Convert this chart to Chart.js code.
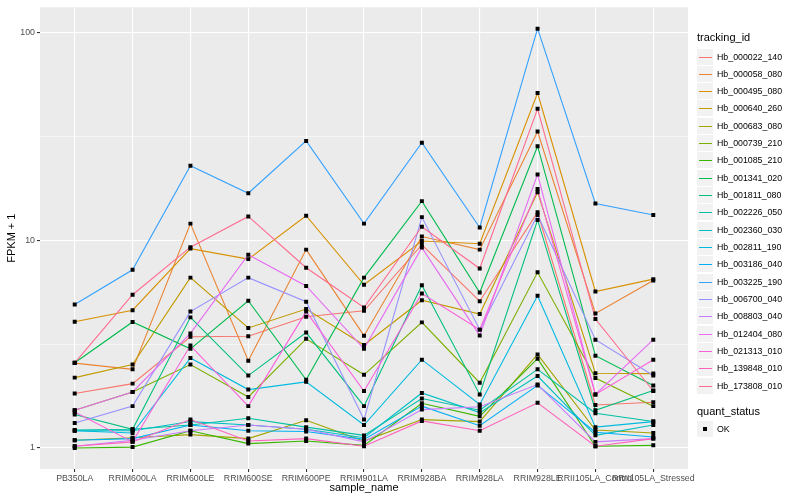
<!DOCTYPE html>
<html>
<head>
<meta charset="utf-8">
<script src="https://cdn.jsdelivr.net/npm/chart.js@4.4.0/dist/chart.umd.min.js"></script>
<style>
  body { margin: 0; background: #fff; font-family: "Liberation Sans", Arial, sans-serif; }
  #wrap { position: relative; width: 800px; height: 500px; }
  #legend { position: absolute; left: 697px; top: 0; }
  .lg-title { position: absolute; left: 0; font-size: 11px; color: #000; white-space: nowrap; }
  .lg-row { position: absolute; left: 0; height: 17px; white-space: nowrap; }
  .lg-key { position: absolute; left: 0; top: 0; width: 16px; height: 16px; background: #F2F2F2; }
  .lg-line { position: absolute; left: 2px; top: 8px; width: 13px; height: 1px; }
  .lg-dot { position: absolute; left: 6px; top: 6px; width: 4px; height: 4px; background: #000; }
  .lg-text { position: absolute; left: 20px; top: 0; line-height: 16px; font-size: 8.8px; color: #000; }
</style>
</head>
<body>
<div id="wrap">
  <canvas id="chart" width="800" height="500"></canvas>
  <div id="legend"></div>
</div>
<script>
// categories on the x axis
const sampleNames = ['PB350LA', 'RRIM600LA', 'RRIM600LE', 'RRIM600SE', 'RRIM600PE', 'RRIM901LA',
  'RRIM928BA', 'RRIM928LA', 'RRIM928LE', 'RRII105LA_Control', 'RRII105LA_Stressed'];

const trackingIds = ['Hb_000022_140', 'Hb_000058_080', 'Hb_000495_080', 'Hb_000640_260', 'Hb_000683_080',
  'Hb_000739_210', 'Hb_001085_210', 'Hb_001341_020', 'Hb_001811_080', 'Hb_002226_050', 'Hb_002360_030',
  'Hb_002811_190', 'Hb_003186_040', 'Hb_003225_190', 'Hb_006700_040', 'Hb_008803_040', 'Hb_012404_080',
  'Hb_021313_010', 'Hb_139848_010', 'Hb_173808_010'];

const seriesColors = ['#F8766D', '#EA8331', '#D89000', '#C09B00', '#A3A500', '#7CAE00', '#39B600',
  '#00BB4E', '#00BF7D', '#00C1A3', '#00BFC4', '#00BAE0', '#00B0F6', '#35A2FF', '#9590FF', '#C77CFF',
  '#E76BF3', '#FA62DB', '#FF62BC', '#FF6C91'];

// FPKM + 1 per gene, one value per sample
const hb000022 = [1.83, 2.04, 3.43, 3.45, 4.28, 4.57, 9.5, 5.08, 13.6, 1.61, 1.66];
const hb000058 = [2.56, 2.39, 12.0, 2.63, 9.0, 3.47, 10.4, 9.0, 33.3, 4.44, 6.4];
const hb000495 = [4.05, 4.6, 9.1, 8.1, 13.1, 6.1, 9.9, 9.6, 51, 5.66, 6.49];
const hb000640 = [2.18, 2.52, 6.6, 3.78, 4.66, 3.13, 5.14, 4.41, 17.0, 2.29, 2.28];
const hb000683 = [1.09, 1.12, 1.16, 1.11, 1.36, 1.08, 1.37, 1.34, 2.82, 1.22, 1.18];
const hb000739 = [1.52, 1.86, 2.52, 1.76, 3.35, 2.25, 4.02, 2.06, 7.0, 2.17, 1.59];
const hb001085 = [1.0, 1.01, 1.21, 1.05, 1.08, 1.03, 1.64, 1.42, 2.69, 1.02, 1.03];
const hb001341 = [2.57, 4.04, 3.0, 5.11, 2.13, 6.6, 15.4, 5.6, 28.3, 2.78, 2.0];
const hb001811 = [1.45, 1.23, 4.25, 2.23, 3.59, 1.59, 6.07, 1.81, 12.5, 1.52, 1.89];
const hb002226 = [1.22, 1.23, 1.29, 1.39, 1.26, 1.15, 1.73, 1.52, 2.39, 1.47, 1.34];
const hb002360 = [1.21, 1.21, 1.34, 1.29, 1.23, 1.12, 1.84, 1.48, 2.22, 1.15, 1.29];
const hb002811 = [1.21, 1.18, 2.71, 1.91, 2.08, 1.29, 2.66, 1.62, 5.4, 1.26, 1.34];
const hb003186 = [1.09, 1.11, 1.29, 1.21, 1.2, 1.1, 1.59, 1.28, 2.0, 1.19, 1.13];
const hb003225 = [4.9, 7.2, 22.8, 16.8, 30, 12.0, 29.4, 11.5, 104, 15.0, 13.2];
const hb006700 = [1.32, 1.59, 4.53, 6.6, 5.05, 1.37, 12.9, 3.71, 13.2, 3.32, 2.23];
const hb008803 = [1.02, 1.09, 1.21, 1.29, 1.23, 1.07, 1.53, 1.58, 2.02, 1.07, 1.11];
const hb012404 = [1.52, 1.86, 3.56, 8.5, 6.02, 3.0, 9.2, 3.48, 20.7, 1.81, 3.32];
const hb021313 = [1.49, 1.07, 3.11, 1.59, 4.53, 1.88, 5.53, 3.71, 17.6, 1.81, 2.66];
const hb139848 = [1.02, 1.07, 1.37, 1.08, 1.11, 1.02, 1.35, 1.21, 1.65, 1.02, 1.11];
const hb173808 = [2.57, 5.46, 9.25, 13.0, 7.36, 4.74, 11.6, 7.3, 42.8, 4.17, 1.88];

const seriesValues = [hb000022, hb000058, hb000495, hb000640, hb000683, hb000739, hb001085, hb001341,
  hb001811, hb002226, hb002360, hb002811, hb003186, hb003225, hb006700, hb008803, hb012404, hb021313,
  hb139848, hb173808];

// log axis: labelled breaks plus the minor breaks ggplot puts between them
const yMajor = [1, 10, 100];
const yMinor = [Math.sqrt(10), Math.sqrt(1000)];

const FONT = '"Liberation Sans", Arial, sans-serif';

// lines, later genes on top
const lineSets = seriesValues.map((vals, i) => ({
  type: 'line',
  label: trackingIds[i],
  data: vals.map((v, k) => ({ x: k, y: v })),
  borderColor: seriesColors[i],
  borderWidth: 1.1,
  pointRadius: 0,
  tension: 0,
  order: 100 - i
}));

// the black points go over every line
const pointSet = {
  type: 'scatter',
  label: 'OK',
  data: seriesValues.flatMap(vals => vals.map((v, k) => ({ x: k, y: v }))),
  pointStyle: 'rect',
  pointRadius: 2.8,
  pointBackgroundColor: '#000',
  pointBorderWidth: 0,
  showLine: false,
  order: 0
};

const isMajor = v => yMajor.some(m => Math.abs(m - v) < 1e-6);

new Chart(document.getElementById('chart'), {
  data: { datasets: [...lineSets, pointSet] },
  options: {
    responsive: false,
    animation: false,
    events: [],
    layout: { padding: { top: 5, right: 112, left: 0, bottom: 0 } },
    plugins: {
      legend: { display: false },
      tooltip: { enabled: false }
    },
    scales: {
      x: {
        type: 'linear',
        min: -0.6,
        max: 10.6,
        afterBuildTicks(scale) {
          scale.ticks = sampleNames.map((_, k) => ({ value: k }));
        },
        afterFit(scale) { scale.height = 31; },
        border: { display: false },
        grid: { color: '#FFFFFF', lineWidth: 1.1, tickLength: 3, tickColor: '#333333', tickWidth: 1.1 },
        ticks: {
          autoSkip: false,
          maxRotation: 0,
          minRotation: 0,
          padding: 1,
          color: '#4D4D4D',
          font: { family: FONT, size: 8.8 },
          callback: v => sampleNames[v]
        },
        title: {
          display: true,
          text: 'sample_name',
          color: '#000',
          font: { family: FONT, size: 11 },
          padding: { top: 0, bottom: 5 }
        }
      },
      y: {
        type: 'logarithmic',
        min: 0.7925,
        max: 131.8,
        afterBuildTicks(scale) {
          scale.ticks = [...yMajor, ...yMinor].sort((a, b) => a - b).map(v => ({ value: v }));
        },
        afterFit(scale) { scale.width = 40; },
        border: { display: false },
        grid: {
          color: '#FFFFFF',
          lineWidth: c => isMajor(c.tick.value) ? 1.1 : 0.55,
          tickLength: 3,
          tickColor: c => isMajor(c.tick.value) ? '#333333' : 'rgba(0,0,0,0)',
          tickWidth: 1.1
        },
        ticks: {
          autoSkip: false,
          padding: 2,
          color: '#4D4D4D',
          font: { family: FONT, size: 8.8 },
          callback: v => isMajor(v) ? String(v) : ''
        },
        title: {
          display: true,
          text: 'FPKM + 1',
          color: '#000',
          font: { family: FONT, size: 11 },
          padding: { top: 5, bottom: 0 }
        }
      }
    }
  },
  plugins: [{
    id: 'panelBg',
    beforeDraw(chart) {
      const { ctx, chartArea: a } = chart;
      ctx.save();
      ctx.fillStyle = '#EBEBEB';
      ctx.fillRect(a.left, a.top, a.right - a.left, a.bottom - a.top);
      ctx.restore();
    }
  }]
});

// legend, ggplot style
const legend = document.getElementById('legend');
const rowH = 17.33;
let html = '<div class="lg-title" style="top:31px">tracking_id</div>';
trackingIds.forEach((id, i) => {
  const top = Math.round(48.5 + i * rowH);
  html += `<div class="lg-row" style="top:${top}px"><div class="lg-key"><div class="lg-line" style="background:${seriesColors[i]}"></div></div><div class="lg-text">${id}</div></div>`;
});
html += '<div class="lg-title" style="top:405px">quant_status</div>';
html += '<div class="lg-row" style="top:421px"><div class="lg-key"><div class="lg-dot"></div></div><div class="lg-text">OK</div></div>';
legend.innerHTML = html;
</script>
</body>
</html>
